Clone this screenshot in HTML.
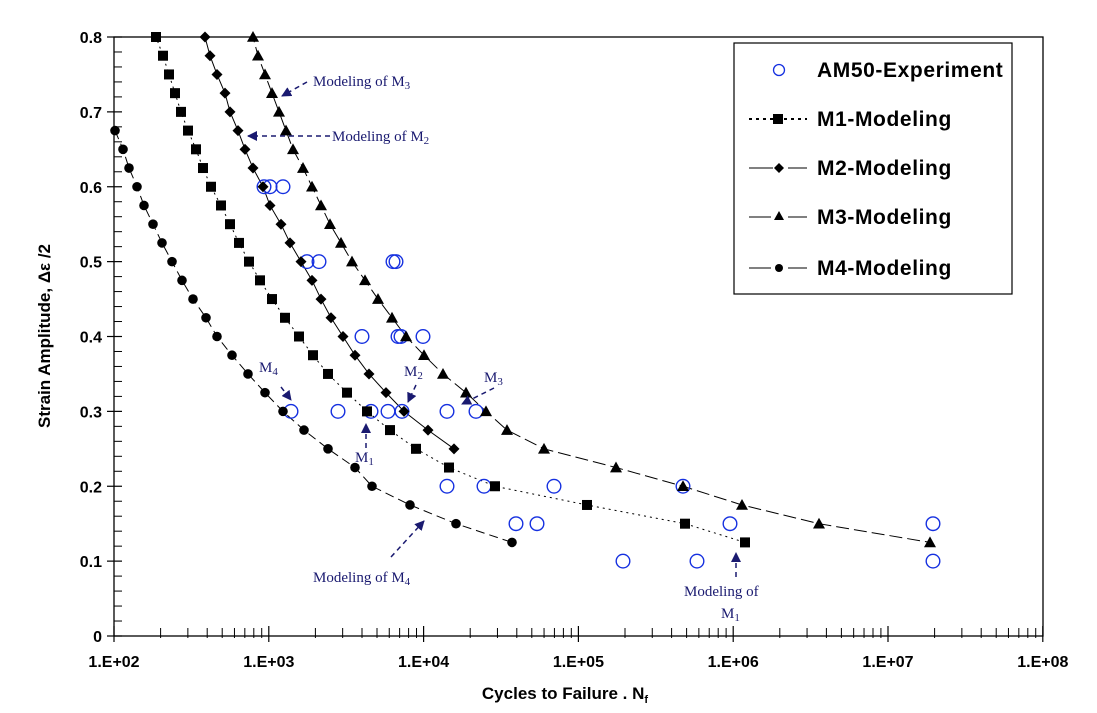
<!DOCTYPE html>
<html><head><meta charset="utf-8"><style>
html,body{margin:0;padding:0;background:#fff;}
svg{display:block;font-family:"Liberation Sans",Arial,sans-serif;}
.tl{font-weight:bold;font-size:16px;}
.an{font-family:"Liberation Serif",serif;font-size:15px;fill:#1a1a70;}
.lg{font-weight:bold;font-size:21px;letter-spacing:0.6px;}
</style></head><body>
<svg id="s" width="1097" height="713" viewBox="0 0 1097 713" xmlns="http://www.w3.org/2000/svg">
<defs>
<marker id="ah" viewBox="0 0 10 10" refX="9" refY="5" markerWidth="10" markerHeight="10" markerUnits="userSpaceOnUse" orient="auto">
<path d="M0,0 L10,5 L0,10 z" fill="#1a1a70"/></marker>
<clipPath id="cp"><rect x="114" y="37" width="929" height="599"/></clipPath>
</defs>
<g id="g"></g>
</svg>
<script>
var NS="http://www.w3.org/2000/svg",g=document.getElementById('g');
function el(t,a,txt,p){var e=document.createElementNS(NS,t);for(var k in a)e.setAttribute(k,a[k]);if(txt!=null)e.textContent=txt;(p||g).appendChild(e);return e;}
var L=114,R=1043,T=37,B=636;
function X(lg){return L+154.8*(lg-2);}
function Y(v){return B-(B-T)*v/0.8;}
el('rect',{x:L,y:T,width:R-L,height:B-T,fill:'none',stroke:'#000','stroke-width':1.3});
for(var i=0;i<=40;i++){var v=i*0.02,y=Y(v);if(i%5==0){el('line',{x1:L-7,x2:L+8,y1:y,y2:y,stroke:'#000','stroke-width':1.2});el('text',{x:L-12,y:y+6,'text-anchor':'end','class':'tl'},i==0?'0':v.toFixed(1));}else el('line',{x1:L,x2:L+8,y1:y,y2:y,stroke:'#000','stroke-width':1});}
for(var d=2;d<=8;d++){var x=X(d);el('line',{x1:x,x2:x,y1:B-10,y2:B+6,stroke:'#000','stroke-width':1.2});el('text',{x:x,y:B+31,'text-anchor':'middle','class':'tl'},'1.E+0'+d);if(d<8)for(var m=2;m<=9;m++){var xm=X(d+Math.log10(m));el('line',{x1:xm,x2:xm,y1:B-8,y2:B+2,stroke:'#000','stroke-width':1});}}
el('text',{x:565,y:699,'text-anchor':'middle','font-weight':'bold','font-size':'17px'},'Cycles to Failure . N').appendChild((function(){var t=document.createElementNS(NS,'tspan');t.setAttribute('font-size','11px');t.setAttribute('dy','4');t.textContent='f';return t;})());
el('text',{x:0,y:0,transform:'translate(50,336) rotate(-90)','text-anchor':'middle','font-weight':'bold','font-size':'17px'},'Strain Amplitude, Δε /2');
var M1x=[156,163,169,175,181,188,196,203,211,221,230,239,249,260,272,285,299,313,328,347,367,390,416,449,495,587,685,745];
var M2x=[205,210,217,225,230,238,245,253,263,270,281,290,301,312,321,331,343,355,369,386,404,428,454];
var M3x=[253,258,265,272,279,286,293,303,312,321,330,341,352,365,378,392,406,424,443,466,486,507,544,616,683,742,819,930];
var M4x=[115,123,129,137,144,153,162,172,182,193,206,217,232,248,265,283,304,328,355,372,410,456,512];
function pts(xs,top){var p=[];for(var i=0;i<xs.length;i++)p.push([xs[i],Y(top-0.025*i)]);return p;}
var P1=pts(M1x,0.8),P2=pts(M2x,0.8),P3=pts(M3x,0.8),P4=pts(M4x,0.675);
var cg=el('g',{'clip-path':'url(#cp)'});
function line(p,dash,pre){var s=(pre?pre:[]).concat(p).map(function(q){return q[0]+','+q[1];}).join(' ');el('polyline',{points:s,fill:'none',stroke:'#000','stroke-width':1,'stroke-dasharray':dash},null,cg);}
line(P1,'2,4',[[153,30]]);line(P2,'none',[[202,30]]);line(P3,'13,5',[[250,30]]);line(P4,'9,5',[[107,104]]);
var E=[[264,.6],[270,.6],[283,.6],[307,.5],[319,.5],[393,.5],[396,.5],[362,.4],[398,.4],[401,.4],[423,.4],
[291,.3],[338,.3],[371,.3],[388,.3],[402,.3],[447,.3],[476,.3],[447,.2],[484,.2],[554,.2],[683,.2],
[516,.15],[537,.15],[730,.15],[933,.15],[623,.1],[697,.1],[933,.1]];
E.forEach(function(e){el('circle',{cx:e[0],cy:Y(e[1]),r:6.8,fill:'none',stroke:'#1530e0','stroke-width':1.4});});
function sq(x,y,s){el('rect',{x:x-s,y:y-s,width:2*s,height:2*s,fill:'#000'});}
function di(x,y,s){el('path',{d:'M'+x+','+(y-s)+'L'+(x+s)+','+y+'L'+x+','+(y+s)+'L'+(x-s)+','+y+'z',fill:'#000'});}
function tr(x,y,s){el('path',{d:'M'+x+','+(y-s)+'L'+(x+s)+','+(y+s*0.8)+'L'+(x-s)+','+(y+s*0.8)+'z',fill:'#000'});}
function ci(x,y,r){el('circle',{cx:x,cy:y,r:r,fill:'#000'});}
P1.forEach(function(p){sq(p[0],p[1],5);});P2.forEach(function(p){di(p[0],p[1],5.5);});
P3.forEach(function(p){tr(p[0],p[1],6);});P4.forEach(function(p){ci(p[0],p[1],4.8);});
function ar(x1,y1,x2,y2){el('line',{x1:x1,y1:y1,x2:x2,y2:y2,stroke:'#1a1a70','stroke-width':1.5,'stroke-dasharray':'5,4','marker-end':'url(#ah)'});}
function an(x,y,t,sub){var e=el('text',{x:x,y:y,'class':'an'},t);if(sub){var s=document.createElementNS(NS,'tspan');s.setAttribute('font-size','11px');s.setAttribute('dy','3');s.textContent=sub;e.appendChild(s);}}
an(313,86,'Modeling of M','3');ar(307,82,282,96);
an(332,141,'Modeling of M','2');ar(330,136,248,136);
an(259,372,'M','4');ar(281,387,291,400);
an(355,462,'M','1');ar(366,448,366,424);
an(404,376,'M','2');ar(416,385,408,402);
an(484,382,'M','3');ar(494,388,462,404);
an(313,582,'Modeling of M','4');ar(391,557,424,521);
an(684,596,'Modeling of');an(721,618,'M','1');ar(736,577,736,553);
el('rect',{x:734,y:43,width:278,height:251,fill:'#fff',stroke:'#000','stroke-width':1.2});
var ly=[70,119,168,217,268],names=['AM50-Experiment','M1-Modeling','M2-Modeling','M3-Modeling','M4-Modeling'];
for(var i=0;i<5;i++){el('text',{x:817,y:ly[i]+7,'class':'lg'},names[i]);}
el('circle',{cx:779,cy:70,r:5.5,fill:'none',stroke:'#1530e0','stroke-width':1.3});
el('line',{x1:749,x2:807,y1:119,y2:119,stroke:'#000','stroke-width':2,'stroke-dasharray':'3,4'});sq(778,119,5);
el('line',{x1:749,x2:773,y1:168,y2:168,stroke:'#000','stroke-width':1});el('line',{x1:788,x2:807,y1:168,y2:168,stroke:'#000','stroke-width':1});di(779,168,5);
el('line',{x1:749,x2:771,y1:217,y2:217,stroke:'#000','stroke-width':1});el('line',{x1:788,x2:807,y1:217,y2:217,stroke:'#000','stroke-width':1});tr(779,216,5);
el('line',{x1:749,x2:771,y1:268,y2:268,stroke:'#000','stroke-width':1});el('line',{x1:788,x2:807,y1:268,y2:268,stroke:'#000','stroke-width':1});ci(779,268,4);
</script>
</body></html>
